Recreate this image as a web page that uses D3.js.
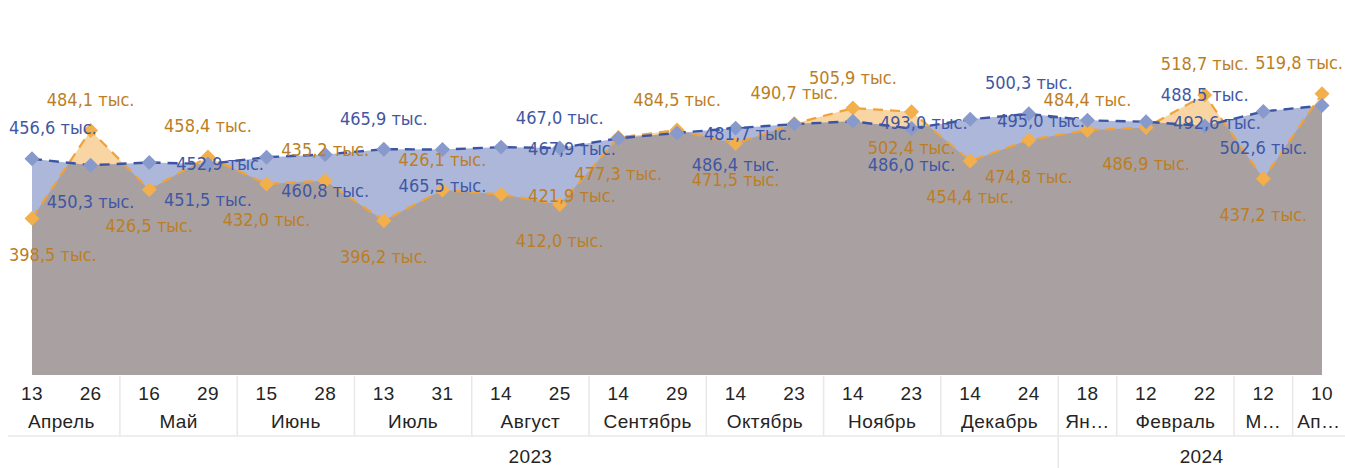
<!DOCTYPE html>
<html>
<head>
<meta charset="UTF-8">
<title>Chart</title>
<script src="https://cdnjs.cloudflare.com/ajax/libs/d3/7.8.5/d3.min.js"></script>
<style>
    body { margin: 0; background: #fff; }
    .tick-text { font-family: "Liberation Sans", Arial, sans-serif; font-size: 19px; letter-spacing: 0.4px; fill: #252423; }
    .lbl { font-family: "DejaVu Sans Condensed", "DejaVu Sans", sans-serif; font-stretch: condensed; font-size: 18px; }
</style>
</head>
<body>
<script>
    // x categories
    var days = ["13", "26", "16", "29", "15", "28", "13", "31", "14", "25", "14", "29",
                "14", "23", "14", "23", "14", "24", "18", "12", "22", "12", "10"];
    var months = ["Апрель", "Апрель", "Май", "Май", "Июнь", "Июнь", "Июль", "Июль",
                  "Август", "Август", "Сентябрь", "Сентябрь", "Октябрь", "Октябрь",
                  "Ноябрь", "Ноябрь", "Декабрь", "Декабрь", "Январь", "Февраль",
                  "Февраль", "Март", "Апрель"];
    var years = ["2023", "2023", "2023", "2023", "2023", "2023", "2023", "2023", "2023",
                 "2023", "2023", "2023", "2023", "2023", "2023", "2023", "2023", "2023",
                 "2024", "2024", "2024", "2024", "2024"];

    // values, thousands
    var blueValues = [456.6, 450.3, 452.9, 451.5, 458.1, 460.8, 465.9, 465.5, 467.9, 467.0,
                      476.5, 481.7, 486.4, 490.3, 493.0, 486.0, 495.0, 500.3, 494.0, 492.6,
                      488.5, 502.6, 508.4];
    var orangeValues = [398.5, 484.1, 426.5, 458.4, 432.0, 435.2, 396.2, 426.1, 421.9, 412.0,
                        477.3, 484.5, 471.5, 490.7, 505.9, 502.4, 454.4, 474.8, 484.4, 486.9,
                        518.7, 437.2, 519.8];

    // where the data label sits: a = above, b = below, r = right, "-" = hidden
    var bluePos = ["a", "b", "r", "b", "-", "b", "a", "b", "r", "a", "-", "r",
                   "b", "-", "r", "b", "r", "a", "-", "r", "a", "b", "-"];
    var orangePos = ["b", "a", "b", "a", "b", "a", "b", "a", "r", "b", "b", "a",
                     "b", "a", "a", "b", "b", "b", "a", "b", "a", "b", "a"];

    var width = 1345;
    var height = 468;

    var ru = d3.formatLocale({decimal: ",", thousands: " ", grouping: [3], currency: ["", ""]});
    var fmt = ru.format(".1f");

    var x = d3.scalePoint()
            .domain(d3.range(days.length))
            .range([32, 1322]);
    var step = x.step();

    var y = d3.scaleLinear()
            .domain([246, 580])
            .range([375, 32]);

    var svg = d3.select("body").append("svg")
            .attr("width", width)
            .attr("height", height);

    var idx = d3.range(days.length);

    // areas
    var areaOrange = d3.area()
            .x(function (i) { return x(i); })
            .y0(y.range()[0])
            .y1(function (i) { return y(orangeValues[i]); });
    var areaBlue = d3.area()
            .x(function (i) { return x(i); })
            .y0(y.range()[0])
            .y1(function (i) { return y(blueValues[i]); });

    svg.append("path").attr("d", areaOrange(idx)).attr("fill", "#F8D5A3");
    svg.append("path").attr("d", areaBlue(idx)).attr("fill", "#ACB7DA");

    // overlap (under both series) drawn as a clip of the two areas
    var defs = svg.append("defs");
    defs.append("clipPath").attr("id", "clipO")
            .append("path").attr("d", areaOrange(idx));
    svg.append("g").attr("clip-path", "url(#clipO)")
            .append("path").attr("d", areaBlue(idx)).attr("fill", "#A9A1A1");

    // lines
    var lineOrange = d3.line()
            .x(function (i) { return x(i); })
            .y(function (i) { return y(orangeValues[i]); });
    var lineBlue = d3.line()
            .x(function (i) { return x(i); })
            .y(function (i) { return y(blueValues[i]); });

    svg.append("path").attr("d", lineOrange(idx))
            .attr("fill", "none").attr("stroke", "#F0A236")
            .attr("stroke-width", 2.2).attr("stroke-dasharray", "10,7");
    svg.append("path").attr("d", lineBlue(idx))
            .attr("fill", "none").attr("stroke", "#3B55A4")
            .attr("stroke-width", 2.4).attr("stroke-dasharray", "10,7");

    // markers
    var diamond = d3.symbol().type(d3.symbolSquare).size(112);
    svg.selectAll(".mo").data(idx).enter().append("path")
            .attr("d", diamond)
            .attr("transform", function (i) { return "translate(" + x(i) + "," + y(orangeValues[i]) + ") rotate(45)"; })
            .attr("fill", "#F2AF4C");
    svg.selectAll(".mb").data(idx).enter().append("path")
            .attr("d", diamond)
            .attr("transform", function (i) { return "translate(" + x(i) + "," + y(blueValues[i]) + ") rotate(45)"; })
            .attr("fill", "#8899CB");

    // data labels
    function addLabels(values, pos, color) {
        idx.forEach(function (i) {
            if (pos[i] === "-") return;
            var px = x(i), py = y(values[i]);
            var t = svg.append("text")
                    .attr("class", "lbl")
                    .attr("fill", color)
                    .attr("dominant-baseline", "central")
                    .text(fmt(values[i]) + " тыс.");
            var w = t.node().getComputedTextLength();
            var left, cy;
            if (pos[i] === "a") { left = px - w / 2; cy = py - 31; }
            else if (pos[i] === "b") { left = px - w / 2; cy = py + 36; }
            else { left = px + 27; cy = py + 1; }
            left = Math.max(9, Math.min(width - 2 - w, left));
            t.attr("x", left).attr("y", cy);
        });
    }
    addLabels(orangeValues, orangePos, "#BC7E25");
    addLabels(blueValues, bluePos, "#3F57A4");

    // axis: days
    var axis = svg.append("g");
    axis.selectAll(".day").data(idx).enter().append("text")
            .attr("class", "tick-text")
            .attr("x", function (i) { return x(i); })
            .attr("y", 400)
            .attr("text-anchor", "middle")
            .text(function (i) { return days[i]; });

    // group helper
    function groups(keyFn) {
        var out = [];
        idx.forEach(function (i) {
            var k = keyFn(i);
            if (out.length && out[out.length - 1].key === k) out[out.length - 1].end = i;
            else out.push({key: k, start: i, end: i});
        });
        out.forEach(function (g) {
            g.full = (g.end - g.start + 1) * step;
            g.x0 = Math.max(0, x(g.start) - step / 2);
            g.x1 = Math.min(width, x(g.end) + step / 2);
        });
        return out;
    }

    function fitText(sel, text, maxW) {
        sel.text(text);
        if (sel.node().getComputedTextLength() <= maxW) return;
        var s = text;
        while (s.length > 1) {
            s = s.slice(0, -1);
            sel.text(s + "…");
            if (sel.node().getComputedTextLength() <= maxW) return;
        }
    }

    var monthGroups = groups(function (i) { return years[i] + months[i]; });
    monthGroups.forEach(function (g, k) {
        var t = axis.append("text")
                .attr("class", "tick-text")
                .attr("x", (g.x0 + g.x1) / 2)
                .attr("y", 428)
                .attr("text-anchor", "middle");
        fitText(t, months[g.start], g.full - 13);
        if (k > 0) {
            axis.append("line")
                    .attr("x1", g.x0).attr("x2", g.x0)
                    .attr("y1", 376).attr("y2", 436)
                    .attr("stroke", "#E8E8E8").attr("stroke-width", 1.5);
        }
    });

    axis.append("line")
            .attr("x1", 8).attr("x2", width)
            .attr("y1", 436).attr("y2", 436)
            .attr("stroke", "#E8E8E8").attr("stroke-width", 1.5);

    var yearGroups = groups(function (i) { return years[i]; });
    yearGroups.forEach(function (g, k) {
        axis.append("text")
                .attr("class", "tick-text")
                .attr("x", (g.x0 + g.x1) / 2)
                .attr("y", 463)
                .attr("text-anchor", "middle")
                .text(g.key);
        if (k > 0) {
            axis.append("line")
                    .attr("x1", g.x0).attr("x2", g.x0)
                    .attr("y1", 436).attr("y2", height)
                    .attr("stroke", "#E8E8E8").attr("stroke-width", 1.5);
        }
    });
</script>
</body>
</html>
